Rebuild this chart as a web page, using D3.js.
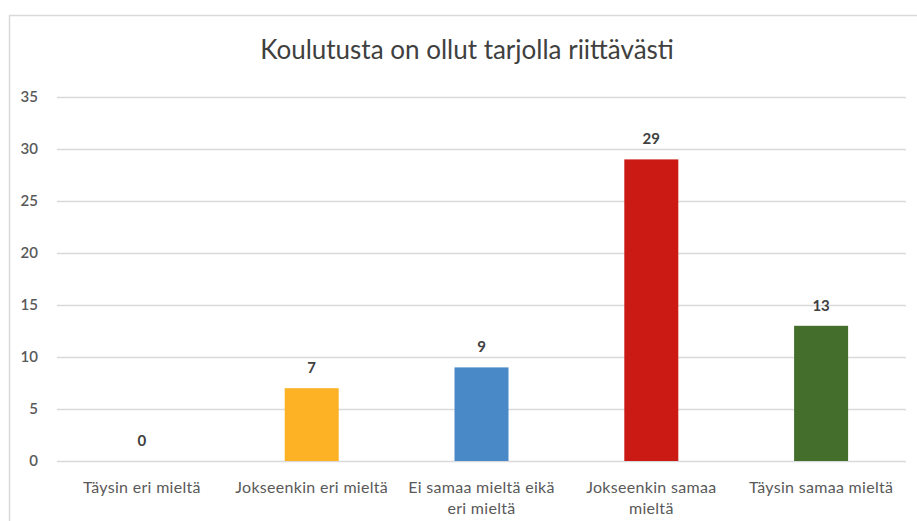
<!DOCTYPE html>
<html><head><meta charset="utf-8">
<script src="https://cdn.jsdelivr.net/npm/d3@7"></script>
<style>body{margin:0;background:#fff;}svg{display:block;}</style>
</head><body>
<svg id="c" width="917" height="521"></svg>
<script>
const title = "Koulutusta on ollut tarjolla riittävästi";
const categories = ["Täysin eri mieltä", "Jokseenkin eri mieltä", "Ei samaa mieltä eikä eri mieltä", "Jokseenkin samaa mieltä", "Täysin samaa mieltä"];
const categoryLines = [["Täysin eri mieltä"], ["Jokseenkin eri mieltä"], ["Ei samaa mieltä eikä", "eri mieltä"], ["Jokseenkin samaa", "mieltä"], ["Täysin samaa mieltä"]];
const values = [0, 7, 9, 29, 13];
const colors = ["#FDB124", "#FDB124", "#4A89C8", "#CB1A13", "#436E2C"];
const yTicks = [0, 5, 10, 15, 20, 25, 30, 35];

const svg = d3.select("#c");
const font = "Lato, 'Open Sans', sans-serif";
svg.append("rect").attr("x", 9.5).attr("y", 15.5).attr("width", 940).attr("height", 540)
  .attr("fill", "#fff").attr("stroke", "#d9d9d9").attr("stroke-width", 1.5);

const x = d3.scaleBand().domain(categories).range([57, 906]).paddingInner(0.682).paddingOuter(0.341);
const y = d3.scaleLinear().domain([0, 35]).range([461, 97]);

const gy = svg.append("g").attr("transform", "translate(57,0)")
  .call(d3.axisLeft(y).tickValues(yTicks).tickSize(-849).tickPadding(19));
gy.select(".domain").remove();
gy.selectAll(".tick line").attr("stroke", "#d9d9d9").attr("stroke-width", 1.3);
gy.selectAll(".tick text").attr("fill", "#595959").attr("font-family", font).attr("font-size", 15).attr("font-weight", 600);

svg.append("g").selectAll("rect").data(values).join("rect")
  .attr("x", (d, i) => x(categories[i])).attr("width", x.bandwidth())
  .attr("y", d => y(d)).attr("height", d => y(0) - y(d))
  .attr("fill", (d, i) => colors[i]);

svg.append("g").selectAll("text").data(values).join("text")
  .attr("x", (d, i) => x(categories[i]) + x.bandwidth() / 2)
  .attr("y", d => y(d) - 15)
  .attr("text-anchor", "middle").attr("fill", "#404040")
  .attr("font-family", font).attr("font-size", 15).attr("font-weight", 700)
  .text(d => d);

const gx = svg.append("g").attr("transform", "translate(0,461)")
  .call(d3.axisBottom(x).tickSize(0).tickFormat(""));
gx.select(".domain").remove();
gx.selectAll(".tick").each(function(d, i) {
  const t = d3.select(this).append("text").attr("fill", "#595959")
    .attr("font-family", font).attr("font-size", 16).attr("letter-spacing", 0.3).attr("text-anchor", "middle");
  categoryLines[i].forEach((ln, j) => {
    t.append("tspan").attr("x", 0).attr("y", 32 + j * 21).text(ln);
  });
});

svg.append("text").attr("x", 467).attr("y", 59).attr("text-anchor", "middle")
  .attr("fill", "#404040").attr("font-family", font).attr("font-size", 26)
  .text(title);
</script>
</body></html>
